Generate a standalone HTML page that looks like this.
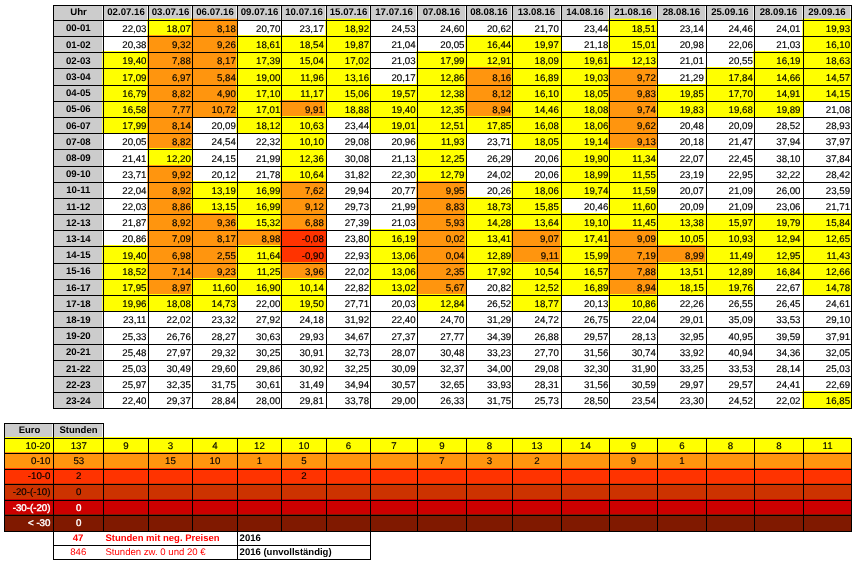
<!DOCTYPE html>
<html lang="de"><head><meta charset="utf-8"><title>Stundenpreise 2016</title>
<style>
html,body{margin:0;padding:0;background:#fff;}
body{width:857px;height:564px;overflow:hidden;}
svg{display:block;font-family:"Liberation Sans",Arial,sans-serif;font-size:9.7px;color:#000;}
text{fill:currentColor;}
.g rect{fill:#000000;shape-rendering:crispEdges;}
text{text-anchor:middle;text-rendering:geometricPrecision;stroke:currentColor;stroke-width:0.15px;}
text.e{text-anchor:end;}
text.s{text-anchor:start;}
text.b{font-weight:bold;font-size:9.65px;stroke:none;}
text.m{font-size:9.53px;}
text.t{font-size:9.6px;stroke:none;}
text.w{stroke-width:0.4px;}
</style></head><body>
<svg width="857" height="564" viewBox="0 0 857 564">
<g>
<rect x="54" y="6" width="48.3" height="14" fill="#cccccc"/>
<rect x="104" y="6" width="43.3" height="14" fill="#cccccc"/>
<rect x="149" y="6" width="42.3" height="14" fill="#cccccc"/>
<rect x="193" y="6" width="43.3" height="14" fill="#cccccc"/>
<rect x="238" y="6" width="42.3" height="14" fill="#cccccc"/>
<rect x="282" y="6" width="43.3" height="14" fill="#cccccc"/>
<rect x="327" y="6" width="42.3" height="14" fill="#cccccc"/>
<rect x="371" y="6" width="45.3" height="14" fill="#cccccc"/>
<rect x="418" y="6" width="47.3" height="14" fill="#cccccc"/>
<rect x="467" y="6" width="44.3" height="14" fill="#cccccc"/>
<rect x="513" y="6" width="47.3" height="14" fill="#cccccc"/>
<rect x="562" y="6" width="46.3" height="14" fill="#cccccc"/>
<rect x="610" y="6" width="46.3" height="14" fill="#cccccc"/>
<rect x="658" y="6" width="47.3" height="14" fill="#cccccc"/>
<rect x="707" y="6" width="46.3" height="14" fill="#cccccc"/>
<rect x="755" y="6" width="47.3" height="14" fill="#cccccc"/>
<rect x="804" y="6" width="46.3" height="14" fill="#cccccc"/>
<rect x="54" y="21" width="48.3" height="15" fill="#cccccc"/>
<rect x="147.3" y="18.7" width="44.7" height="17.3" fill="#ffff00"/>
<rect x="191.3" y="18.7" width="45.7" height="17.3" fill="#ff950e"/>
<rect x="325.3" y="18.7" width="44.7" height="17.3" fill="#ffff00"/>
<rect x="608.3" y="18.7" width="48.7" height="17.3" fill="#ffff00"/>
<rect x="802.3" y="18.7" width="48.7" height="17.3" fill="#ffff00"/>
<rect x="54" y="37" width="48.3" height="15" fill="#cccccc"/>
<rect x="147.3" y="35" width="44.7" height="17" fill="#ff950e"/>
<rect x="191.3" y="35" width="45.7" height="17" fill="#ff950e"/>
<rect x="236.3" y="35" width="44.7" height="17" fill="#ffff00"/>
<rect x="280.3" y="35" width="45.7" height="17" fill="#ffff00"/>
<rect x="325.3" y="35" width="44.7" height="17" fill="#ffff00"/>
<rect x="465.3" y="35" width="46.7" height="17" fill="#ffff00"/>
<rect x="511.3" y="35" width="49.7" height="17" fill="#ffff00"/>
<rect x="608.3" y="35" width="48.7" height="17" fill="#ffff00"/>
<rect x="802.3" y="35" width="48.7" height="17" fill="#ffff00"/>
<rect x="54" y="53" width="48.3" height="15" fill="#cccccc"/>
<rect x="102.3" y="51" width="45.7" height="17" fill="#ffff00"/>
<rect x="147.3" y="51" width="44.7" height="17" fill="#ff950e"/>
<rect x="191.3" y="51" width="45.7" height="17" fill="#ff950e"/>
<rect x="236.3" y="51" width="44.7" height="17" fill="#ffff00"/>
<rect x="280.3" y="51" width="45.7" height="17" fill="#ffff00"/>
<rect x="325.3" y="51" width="44.7" height="17" fill="#ffff00"/>
<rect x="416.3" y="51" width="49.7" height="17" fill="#ffff00"/>
<rect x="465.3" y="51" width="46.7" height="17" fill="#ffff00"/>
<rect x="511.3" y="51" width="49.7" height="17" fill="#ffff00"/>
<rect x="560.3" y="51" width="48.7" height="17" fill="#ffff00"/>
<rect x="608.3" y="51" width="48.7" height="17" fill="#ffff00"/>
<rect x="753.3" y="51" width="49.7" height="17" fill="#ffff00"/>
<rect x="802.3" y="51" width="48.7" height="17" fill="#ffff00"/>
<rect x="54" y="69" width="48.3" height="16" fill="#cccccc"/>
<rect x="102.3" y="67" width="45.7" height="18" fill="#ffff00"/>
<rect x="147.3" y="67" width="44.7" height="18" fill="#ff950e"/>
<rect x="191.3" y="67" width="45.7" height="18" fill="#ff950e"/>
<rect x="236.3" y="67" width="44.7" height="18" fill="#ffff00"/>
<rect x="280.3" y="67" width="45.7" height="18" fill="#ffff00"/>
<rect x="325.3" y="67" width="44.7" height="18" fill="#ffff00"/>
<rect x="416.3" y="67" width="49.7" height="18" fill="#ffff00"/>
<rect x="465.3" y="67" width="46.7" height="18" fill="#ff950e"/>
<rect x="511.3" y="67" width="49.7" height="18" fill="#ffff00"/>
<rect x="560.3" y="67" width="48.7" height="18" fill="#ffff00"/>
<rect x="608.3" y="67" width="48.7" height="18" fill="#ff950e"/>
<rect x="705.3" y="67" width="48.7" height="18" fill="#ffff00"/>
<rect x="753.3" y="67" width="49.7" height="18" fill="#ffff00"/>
<rect x="802.3" y="67" width="48.7" height="18" fill="#ffff00"/>
<rect x="54" y="86" width="48.3" height="15" fill="#cccccc"/>
<rect x="102.3" y="84" width="45.7" height="17" fill="#ffff00"/>
<rect x="147.3" y="84" width="44.7" height="17" fill="#ff950e"/>
<rect x="191.3" y="84" width="45.7" height="17" fill="#ff950e"/>
<rect x="236.3" y="84" width="44.7" height="17" fill="#ffff00"/>
<rect x="280.3" y="84" width="45.7" height="17" fill="#ffff00"/>
<rect x="325.3" y="84" width="44.7" height="17" fill="#ffff00"/>
<rect x="369.3" y="84" width="47.7" height="17" fill="#ffff00"/>
<rect x="416.3" y="84" width="49.7" height="17" fill="#ffff00"/>
<rect x="465.3" y="84" width="46.7" height="17" fill="#ff950e"/>
<rect x="511.3" y="84" width="49.7" height="17" fill="#ffff00"/>
<rect x="560.3" y="84" width="48.7" height="17" fill="#ffff00"/>
<rect x="608.3" y="84" width="48.7" height="17" fill="#ff950e"/>
<rect x="656.3" y="84" width="49.7" height="17" fill="#ffff00"/>
<rect x="705.3" y="84" width="48.7" height="17" fill="#ffff00"/>
<rect x="753.3" y="84" width="49.7" height="17" fill="#ffff00"/>
<rect x="802.3" y="84" width="48.7" height="17" fill="#ffff00"/>
<rect x="54" y="102" width="48.3" height="15" fill="#cccccc"/>
<rect x="102.3" y="100" width="45.7" height="17" fill="#ffff00"/>
<rect x="147.3" y="100" width="44.7" height="17" fill="#ff950e"/>
<rect x="191.3" y="100" width="45.7" height="17" fill="#ff950e"/>
<rect x="236.3" y="100" width="44.7" height="17" fill="#ffff00"/>
<rect x="280.3" y="100" width="45.7" height="17" fill="#ff950e"/>
<rect x="325.3" y="100" width="44.7" height="17" fill="#ffff00"/>
<rect x="369.3" y="100" width="47.7" height="17" fill="#ffff00"/>
<rect x="416.3" y="100" width="49.7" height="17" fill="#ffff00"/>
<rect x="465.3" y="100" width="46.7" height="17" fill="#ff950e"/>
<rect x="511.3" y="100" width="49.7" height="17" fill="#ffff00"/>
<rect x="560.3" y="100" width="48.7" height="17" fill="#ffff00"/>
<rect x="608.3" y="100" width="48.7" height="17" fill="#ff950e"/>
<rect x="656.3" y="100" width="49.7" height="17" fill="#ffff00"/>
<rect x="705.3" y="100" width="48.7" height="17" fill="#ffff00"/>
<rect x="753.3" y="100" width="49.7" height="17" fill="#ffff00"/>
<rect x="54" y="118" width="48.3" height="15" fill="#cccccc"/>
<rect x="102.3" y="116" width="45.7" height="17" fill="#ffff00"/>
<rect x="147.3" y="116" width="44.7" height="17" fill="#ff950e"/>
<rect x="236.3" y="116" width="44.7" height="17" fill="#ffff00"/>
<rect x="280.3" y="116" width="45.7" height="17" fill="#ffff00"/>
<rect x="369.3" y="116" width="47.7" height="17" fill="#ffff00"/>
<rect x="416.3" y="116" width="49.7" height="17" fill="#ffff00"/>
<rect x="465.3" y="116" width="46.7" height="17" fill="#ffff00"/>
<rect x="511.3" y="116" width="49.7" height="17" fill="#ffff00"/>
<rect x="560.3" y="116" width="48.7" height="17" fill="#ffff00"/>
<rect x="608.3" y="116" width="48.7" height="17" fill="#ff950e"/>
<rect x="54" y="134" width="48.3" height="15" fill="#cccccc"/>
<rect x="147.3" y="132" width="44.7" height="17" fill="#ff950e"/>
<rect x="280.3" y="132" width="45.7" height="17" fill="#ffff00"/>
<rect x="416.3" y="132" width="49.7" height="17" fill="#ffff00"/>
<rect x="511.3" y="132" width="49.7" height="17" fill="#ffff00"/>
<rect x="560.3" y="132" width="48.7" height="17" fill="#ffff00"/>
<rect x="608.3" y="132" width="48.7" height="17" fill="#ff950e"/>
<rect x="54" y="150" width="48.3" height="16" fill="#cccccc"/>
<rect x="147.3" y="148" width="44.7" height="18" fill="#ffff00"/>
<rect x="280.3" y="148" width="45.7" height="18" fill="#ffff00"/>
<rect x="416.3" y="148" width="49.7" height="18" fill="#ffff00"/>
<rect x="560.3" y="148" width="48.7" height="18" fill="#ffff00"/>
<rect x="608.3" y="148" width="48.7" height="18" fill="#ffff00"/>
<rect x="54" y="167" width="48.3" height="15" fill="#cccccc"/>
<rect x="147.3" y="165" width="44.7" height="17" fill="#ff950e"/>
<rect x="280.3" y="165" width="45.7" height="17" fill="#ffff00"/>
<rect x="416.3" y="165" width="49.7" height="17" fill="#ffff00"/>
<rect x="560.3" y="165" width="48.7" height="17" fill="#ffff00"/>
<rect x="608.3" y="165" width="48.7" height="17" fill="#ffff00"/>
<rect x="54" y="183" width="48.3" height="15" fill="#cccccc"/>
<rect x="147.3" y="181" width="44.7" height="17" fill="#ff950e"/>
<rect x="191.3" y="181" width="45.7" height="17" fill="#ffff00"/>
<rect x="236.3" y="181" width="44.7" height="17" fill="#ffff00"/>
<rect x="280.3" y="181" width="45.7" height="17" fill="#ff950e"/>
<rect x="416.3" y="181" width="49.7" height="17" fill="#ff950e"/>
<rect x="511.3" y="181" width="49.7" height="17" fill="#ffff00"/>
<rect x="560.3" y="181" width="48.7" height="17" fill="#ffff00"/>
<rect x="608.3" y="181" width="48.7" height="17" fill="#ffff00"/>
<rect x="54" y="199" width="48.3" height="15" fill="#cccccc"/>
<rect x="147.3" y="197" width="44.7" height="17" fill="#ff950e"/>
<rect x="191.3" y="197" width="45.7" height="17" fill="#ffff00"/>
<rect x="236.3" y="197" width="44.7" height="17" fill="#ffff00"/>
<rect x="280.3" y="197" width="45.7" height="17" fill="#ff950e"/>
<rect x="416.3" y="197" width="49.7" height="17" fill="#ff950e"/>
<rect x="465.3" y="197" width="46.7" height="17" fill="#ffff00"/>
<rect x="511.3" y="197" width="49.7" height="17" fill="#ffff00"/>
<rect x="608.3" y="197" width="48.7" height="17" fill="#ffff00"/>
<rect x="54" y="215" width="48.3" height="15" fill="#cccccc"/>
<rect x="147.3" y="213" width="44.7" height="17" fill="#ff950e"/>
<rect x="191.3" y="213" width="45.7" height="17" fill="#ff950e"/>
<rect x="236.3" y="213" width="44.7" height="17" fill="#ffff00"/>
<rect x="280.3" y="213" width="45.7" height="17" fill="#ff950e"/>
<rect x="416.3" y="213" width="49.7" height="17" fill="#ff950e"/>
<rect x="465.3" y="213" width="46.7" height="17" fill="#ffff00"/>
<rect x="511.3" y="213" width="49.7" height="17" fill="#ffff00"/>
<rect x="560.3" y="213" width="48.7" height="17" fill="#ffff00"/>
<rect x="608.3" y="213" width="48.7" height="17" fill="#ffff00"/>
<rect x="656.3" y="213" width="49.7" height="17" fill="#ffff00"/>
<rect x="705.3" y="213" width="48.7" height="17" fill="#ffff00"/>
<rect x="753.3" y="213" width="49.7" height="17" fill="#ffff00"/>
<rect x="802.3" y="213" width="48.7" height="17" fill="#ffff00"/>
<rect x="54" y="231" width="48.3" height="15" fill="#cccccc"/>
<rect x="147.3" y="229" width="44.7" height="17" fill="#ff950e"/>
<rect x="191.3" y="229" width="45.7" height="17" fill="#ff950e"/>
<rect x="236.3" y="229" width="44.7" height="17" fill="#ff950e"/>
<rect x="280.3" y="229" width="45.7" height="17" fill="#ff3300"/>
<rect x="369.3" y="229" width="47.7" height="17" fill="#ffff00"/>
<rect x="416.3" y="229" width="49.7" height="17" fill="#ff950e"/>
<rect x="465.3" y="229" width="46.7" height="17" fill="#ffff00"/>
<rect x="511.3" y="229" width="49.7" height="17" fill="#ff950e"/>
<rect x="560.3" y="229" width="48.7" height="17" fill="#ffff00"/>
<rect x="608.3" y="229" width="48.7" height="17" fill="#ff950e"/>
<rect x="656.3" y="229" width="49.7" height="17" fill="#ffff00"/>
<rect x="705.3" y="229" width="48.7" height="17" fill="#ffff00"/>
<rect x="753.3" y="229" width="49.7" height="17" fill="#ffff00"/>
<rect x="802.3" y="229" width="48.7" height="17" fill="#ffff00"/>
<rect x="54" y="247" width="48.3" height="16" fill="#cccccc"/>
<rect x="102.3" y="245" width="45.7" height="18" fill="#ffff00"/>
<rect x="147.3" y="245" width="44.7" height="18" fill="#ff950e"/>
<rect x="191.3" y="245" width="45.7" height="18" fill="#ff950e"/>
<rect x="236.3" y="245" width="44.7" height="18" fill="#ffff00"/>
<rect x="280.3" y="245" width="45.7" height="18" fill="#ff3300"/>
<rect x="369.3" y="245" width="47.7" height="18" fill="#ffff00"/>
<rect x="416.3" y="245" width="49.7" height="18" fill="#ff950e"/>
<rect x="465.3" y="245" width="46.7" height="18" fill="#ffff00"/>
<rect x="511.3" y="245" width="49.7" height="18" fill="#ff950e"/>
<rect x="560.3" y="245" width="48.7" height="18" fill="#ffff00"/>
<rect x="608.3" y="245" width="48.7" height="18" fill="#ff950e"/>
<rect x="656.3" y="245" width="49.7" height="18" fill="#ff950e"/>
<rect x="705.3" y="245" width="48.7" height="18" fill="#ffff00"/>
<rect x="753.3" y="245" width="49.7" height="18" fill="#ffff00"/>
<rect x="802.3" y="245" width="48.7" height="18" fill="#ffff00"/>
<rect x="54" y="264" width="48.3" height="15" fill="#cccccc"/>
<rect x="102.3" y="262" width="45.7" height="17" fill="#ffff00"/>
<rect x="147.3" y="262" width="44.7" height="17" fill="#ff950e"/>
<rect x="191.3" y="262" width="45.7" height="17" fill="#ff950e"/>
<rect x="236.3" y="262" width="44.7" height="17" fill="#ffff00"/>
<rect x="280.3" y="262" width="45.7" height="17" fill="#ff950e"/>
<rect x="369.3" y="262" width="47.7" height="17" fill="#ffff00"/>
<rect x="416.3" y="262" width="49.7" height="17" fill="#ff950e"/>
<rect x="465.3" y="262" width="46.7" height="17" fill="#ffff00"/>
<rect x="511.3" y="262" width="49.7" height="17" fill="#ffff00"/>
<rect x="560.3" y="262" width="48.7" height="17" fill="#ffff00"/>
<rect x="608.3" y="262" width="48.7" height="17" fill="#ff950e"/>
<rect x="656.3" y="262" width="49.7" height="17" fill="#ffff00"/>
<rect x="705.3" y="262" width="48.7" height="17" fill="#ffff00"/>
<rect x="753.3" y="262" width="49.7" height="17" fill="#ffff00"/>
<rect x="802.3" y="262" width="48.7" height="17" fill="#ffff00"/>
<rect x="54" y="280" width="48.3" height="15" fill="#cccccc"/>
<rect x="102.3" y="278" width="45.7" height="17" fill="#ffff00"/>
<rect x="147.3" y="278" width="44.7" height="17" fill="#ff950e"/>
<rect x="191.3" y="278" width="45.7" height="17" fill="#ffff00"/>
<rect x="236.3" y="278" width="44.7" height="17" fill="#ffff00"/>
<rect x="280.3" y="278" width="45.7" height="17" fill="#ffff00"/>
<rect x="369.3" y="278" width="47.7" height="17" fill="#ffff00"/>
<rect x="416.3" y="278" width="49.7" height="17" fill="#ff950e"/>
<rect x="511.3" y="278" width="49.7" height="17" fill="#ffff00"/>
<rect x="560.3" y="278" width="48.7" height="17" fill="#ffff00"/>
<rect x="608.3" y="278" width="48.7" height="17" fill="#ff950e"/>
<rect x="656.3" y="278" width="49.7" height="17" fill="#ffff00"/>
<rect x="705.3" y="278" width="48.7" height="17" fill="#ffff00"/>
<rect x="802.3" y="278" width="48.7" height="17" fill="#ffff00"/>
<rect x="54" y="296" width="48.3" height="15" fill="#cccccc"/>
<rect x="102.3" y="294" width="45.7" height="17" fill="#ffff00"/>
<rect x="147.3" y="294" width="44.7" height="17" fill="#ffff00"/>
<rect x="191.3" y="294" width="45.7" height="17" fill="#ffff00"/>
<rect x="280.3" y="294" width="45.7" height="17" fill="#ffff00"/>
<rect x="416.3" y="294" width="49.7" height="17" fill="#ffff00"/>
<rect x="511.3" y="294" width="49.7" height="17" fill="#ffff00"/>
<rect x="608.3" y="294" width="48.7" height="17" fill="#ffff00"/>
<rect x="54" y="312" width="48.3" height="15" fill="#cccccc"/>
<rect x="54" y="328" width="48.3" height="16" fill="#cccccc"/>
<rect x="54" y="345" width="48.3" height="15" fill="#cccccc"/>
<rect x="54" y="361" width="48.3" height="15" fill="#cccccc"/>
<rect x="54" y="377" width="48.3" height="15" fill="#cccccc"/>
<rect x="54" y="393" width="48.3" height="15" fill="#cccccc"/>
<rect x="802.3" y="391" width="48.7" height="17" fill="#ffff00"/>
<rect x="5" y="424" width="47.3" height="14" fill="#cccccc"/>
<rect x="54" y="424" width="48.3" height="14" fill="#cccccc"/>
<rect x="4" y="437" width="847" height="16" fill="#ffff00"/>
<rect x="4" y="452" width="847" height="17" fill="#ff950e"/>
<rect x="4" y="468" width="847" height="16" fill="#ff3300"/>
<rect x="4" y="483" width="847" height="17" fill="#cc3300"/>
<rect x="4" y="499" width="847" height="16" fill="#cc0000"/>
<rect x="4" y="514" width="847" height="17" fill="#801900"/>
</g>
<g class="g">
<rect x="53" y="5" width="799" height="1"/>
<rect x="53" y="20" width="799" height="1"/>
<rect x="53" y="36" width="799" height="1"/>
<rect x="53" y="52" width="799" height="1"/>
<rect x="53" y="68" width="799" height="1"/>
<rect x="53" y="85" width="799" height="1"/>
<rect x="53" y="101" width="799" height="1"/>
<rect x="53" y="117" width="799" height="1"/>
<rect x="53" y="133" width="799" height="1"/>
<rect x="53" y="149" width="799" height="1"/>
<rect x="53" y="166" width="799" height="1"/>
<rect x="53" y="182" width="799" height="1"/>
<rect x="53" y="198" width="799" height="1"/>
<rect x="53" y="214" width="799" height="1"/>
<rect x="53" y="230" width="799" height="1"/>
<rect x="53" y="246" width="799" height="1"/>
<rect x="53" y="263" width="799" height="1"/>
<rect x="53" y="279" width="799" height="1"/>
<rect x="53" y="295" width="799" height="1"/>
<rect x="53" y="311" width="799" height="1"/>
<rect x="53" y="327" width="799" height="1"/>
<rect x="53" y="344" width="799" height="1"/>
<rect x="53" y="360" width="799" height="1"/>
<rect x="53" y="376" width="799" height="1"/>
<rect x="53" y="392" width="799" height="1"/>
<rect x="53" y="408" width="799" height="1"/>
<rect x="53" y="5" width="1" height="404"/>
<rect x="103" y="5" width="1" height="404"/>
<rect x="148" y="5" width="1" height="404"/>
<rect x="192" y="5" width="1" height="404"/>
<rect x="237" y="5" width="1" height="404"/>
<rect x="281" y="5" width="1" height="404"/>
<rect x="326" y="5" width="1" height="404"/>
<rect x="370" y="5" width="1" height="404"/>
<rect x="417" y="5" width="1" height="404"/>
<rect x="466" y="5" width="1" height="404"/>
<rect x="512" y="5" width="1" height="404"/>
<rect x="561" y="5" width="1" height="404"/>
<rect x="609" y="5" width="1" height="404"/>
<rect x="657" y="5" width="1" height="404"/>
<rect x="706" y="5" width="1" height="404"/>
<rect x="754" y="5" width="1" height="404"/>
<rect x="803" y="5" width="1" height="404"/>
<rect x="851" y="5" width="1" height="404"/>
<rect x="4" y="423" width="100" height="1"/>
<rect x="4" y="438" width="848" height="1"/>
<rect x="4" y="453" width="848" height="1"/>
<rect x="4" y="469" width="848" height="1"/>
<rect x="4" y="484" width="848" height="1"/>
<rect x="4" y="500" width="848" height="1"/>
<rect x="4" y="515" width="848" height="1"/>
<rect x="4" y="531" width="848" height="1"/>
<rect x="4" y="423" width="1" height="109"/>
<rect x="53" y="423" width="1" height="109"/>
<rect x="103" y="423" width="1" height="109"/>
<rect x="148" y="438" width="1" height="94"/>
<rect x="192" y="438" width="1" height="94"/>
<rect x="237" y="438" width="1" height="94"/>
<rect x="281" y="438" width="1" height="94"/>
<rect x="326" y="438" width="1" height="94"/>
<rect x="370" y="438" width="1" height="94"/>
<rect x="417" y="438" width="1" height="94"/>
<rect x="466" y="438" width="1" height="94"/>
<rect x="512" y="438" width="1" height="94"/>
<rect x="561" y="438" width="1" height="94"/>
<rect x="609" y="438" width="1" height="94"/>
<rect x="657" y="438" width="1" height="94"/>
<rect x="706" y="438" width="1" height="94"/>
<rect x="754" y="438" width="1" height="94"/>
<rect x="803" y="438" width="1" height="94"/>
<rect x="851" y="438" width="1" height="94"/>
<rect x="53" y="545" width="318" height="1"/>
<rect x="53" y="559" width="318" height="1"/>
<rect x="53" y="531" width="1" height="29"/>
<rect x="237" y="531" width="1" height="29"/>
<rect x="370" y="531" width="1" height="29"/>
</g>
<g>
<text x="78.5" y="15" class="b">Uhr</text>
<text x="126" y="15" class="b">02.07.16</text>
<text x="170.5" y="15" class="b">03.07.16</text>
<text x="215" y="15" class="b">06.07.16</text>
<text x="259.5" y="15" class="b">09.07.16</text>
<text x="304" y="15" class="b">10.07.16</text>
<text x="348.5" y="15" class="b">15.07.16</text>
<text x="394" y="15" class="b">17.07.16</text>
<text x="441.4" y="15" class="b">07.08.16</text>
<text x="488.9" y="15" class="b">08.08.16</text>
<text x="536.4" y="15" class="b">13.08.16</text>
<text x="584.9" y="15" class="b">14.08.16</text>
<text x="632.9" y="15" class="b">21.08.16</text>
<text x="681.4" y="15" class="b">28.08.16</text>
<text x="729.9" y="15" class="b">25.09.16</text>
<text x="778.4" y="15" class="b">28.09.16</text>
<text x="826.9" y="15" class="b">29.09.16</text>
<text x="78.3" y="31" class="b">00-01</text>
<text x="146.5" y="32" class="e">22,03</text>
<text x="190.8" y="32" class="e">18,07</text>
<text x="235.8" y="32" class="e">8,18</text>
<text x="280.3" y="32" class="e">20,70</text>
<text x="323.8" y="32" class="e">23,17</text>
<text x="369.1" y="32" class="e">18,92</text>
<text x="415.65" y="32" class="e">24,53</text>
<text x="464.5" y="32" class="e">24,60</text>
<text x="511.2" y="32" class="e">20,62</text>
<text x="558.8" y="32" class="e">21,70</text>
<text x="608.3" y="32" class="e">23,44</text>
<text x="655.9" y="32" class="e">18,51</text>
<text x="703.9" y="32" class="e">23,14</text>
<text x="752.85" y="32" class="e">24,46</text>
<text x="800.5" y="32" class="e">24,01</text>
<text x="850.1" y="32" class="e">19,93</text>
<text x="78.3" y="48" class="b">01-02</text>
<text x="146.5" y="48" class="e">20,38</text>
<text x="190.8" y="48" class="e">9,32</text>
<text x="235.8" y="48" class="e">9,26</text>
<text x="280.3" y="48" class="e">18,61</text>
<text x="323.8" y="48" class="e">18,54</text>
<text x="369.1" y="48" class="e">19,87</text>
<text x="415.65" y="48" class="e">21,04</text>
<text x="464.5" y="48" class="e">20,05</text>
<text x="511.2" y="48" class="e">16,44</text>
<text x="558.8" y="48" class="e">19,97</text>
<text x="608.3" y="48" class="e">21,18</text>
<text x="655.9" y="48" class="e">15,01</text>
<text x="703.9" y="48" class="e">20,98</text>
<text x="752.85" y="48" class="e">22,06</text>
<text x="800.5" y="48" class="e">21,03</text>
<text x="850.1" y="48" class="e">16,10</text>
<text x="78.3" y="64" class="b">02-03</text>
<text x="146.5" y="64" class="e">19,40</text>
<text x="190.8" y="64" class="e">7,88</text>
<text x="235.8" y="64" class="e">8,17</text>
<text x="280.3" y="64" class="e">17,39</text>
<text x="323.8" y="64" class="e">15,04</text>
<text x="369.1" y="64" class="e">17,02</text>
<text x="415.65" y="64" class="e">21,03</text>
<text x="464.5" y="64" class="e">17,99</text>
<text x="511.2" y="64" class="e">12,91</text>
<text x="558.8" y="64" class="e">18,09</text>
<text x="608.3" y="64" class="e">19,61</text>
<text x="655.9" y="64" class="e">12,13</text>
<text x="703.9" y="64" class="e">21,01</text>
<text x="752.85" y="64" class="e">20,55</text>
<text x="800.5" y="64" class="e">16,19</text>
<text x="850.1" y="64" class="e">18,63</text>
<text x="78.3" y="80" class="b">03-04</text>
<text x="146.5" y="81" class="e">17,09</text>
<text x="190.8" y="81" class="e">6,97</text>
<text x="235.8" y="81" class="e">5,84</text>
<text x="280.3" y="81" class="e">19,00</text>
<text x="323.8" y="81" class="e">11,96</text>
<text x="369.1" y="81" class="e">13,16</text>
<text x="415.65" y="81" class="e">20,17</text>
<text x="464.5" y="81" class="e">12,86</text>
<text x="511.2" y="81" class="e">8,16</text>
<text x="558.8" y="81" class="e">16,89</text>
<text x="608.3" y="81" class="e">19,03</text>
<text x="655.9" y="81" class="e">9,72</text>
<text x="703.9" y="81" class="e">21,29</text>
<text x="752.85" y="81" class="e">17,84</text>
<text x="800.5" y="81" class="e">14,66</text>
<text x="850.1" y="81" class="e">14,57</text>
<text x="78.3" y="96" class="b">04-05</text>
<text x="146.5" y="97" class="e">16,79</text>
<text x="190.8" y="97" class="e">8,82</text>
<text x="235.8" y="97" class="e">4,90</text>
<text x="280.3" y="97" class="e">17,10</text>
<text x="323.8" y="97" class="e">11,17</text>
<text x="369.1" y="97" class="e">15,06</text>
<text x="415.65" y="97" class="e">19,57</text>
<text x="464.5" y="97" class="e">12,38</text>
<text x="511.2" y="97" class="e">8,12</text>
<text x="558.8" y="97" class="e">16,10</text>
<text x="608.3" y="97" class="e">18,05</text>
<text x="655.9" y="97" class="e">9,83</text>
<text x="703.9" y="97" class="e">19,85</text>
<text x="752.85" y="97" class="e">17,70</text>
<text x="800.5" y="97" class="e">14,91</text>
<text x="850.1" y="97" class="e">14,15</text>
<text x="78.3" y="112" class="b">05-06</text>
<text x="146.5" y="113" class="e">16,58</text>
<text x="190.8" y="113" class="e">7,77</text>
<text x="235.8" y="113" class="e">10,72</text>
<text x="280.3" y="113" class="e">17,01</text>
<text x="323.8" y="113" class="e">9,91</text>
<text x="369.1" y="113" class="e">18,88</text>
<text x="415.65" y="113" class="e">19,40</text>
<text x="464.5" y="113" class="e">12,35</text>
<text x="511.2" y="113" class="e">8,94</text>
<text x="558.8" y="113" class="e">14,46</text>
<text x="608.3" y="113" class="e">18,08</text>
<text x="655.9" y="113" class="e">9,74</text>
<text x="703.9" y="113" class="e">19,83</text>
<text x="752.85" y="113" class="e">19,68</text>
<text x="800.5" y="113" class="e">19,89</text>
<text x="850.1" y="113" class="e">21,08</text>
<text x="78.3" y="129" class="b">06-07</text>
<text x="146.5" y="129" class="e">17,99</text>
<text x="190.8" y="129" class="e">8,14</text>
<text x="235.8" y="129" class="e">20,09</text>
<text x="280.3" y="129" class="e">18,12</text>
<text x="323.8" y="129" class="e">10,63</text>
<text x="369.1" y="129" class="e">23,44</text>
<text x="415.65" y="129" class="e">19,01</text>
<text x="464.5" y="129" class="e">12,51</text>
<text x="511.2" y="129" class="e">17,85</text>
<text x="558.8" y="129" class="e">16,08</text>
<text x="608.3" y="129" class="e">18,06</text>
<text x="655.9" y="129" class="e">9,62</text>
<text x="703.9" y="129" class="e">20,48</text>
<text x="752.85" y="129" class="e">20,09</text>
<text x="800.5" y="129" class="e">28,52</text>
<text x="850.1" y="129" class="e">28,93</text>
<text x="78.3" y="145" class="b">07-08</text>
<text x="146.5" y="145" class="e">20,05</text>
<text x="190.8" y="145" class="e">8,82</text>
<text x="235.8" y="145" class="e">24,54</text>
<text x="280.3" y="145" class="e">22,32</text>
<text x="323.8" y="145" class="e">10,10</text>
<text x="369.1" y="145" class="e">29,08</text>
<text x="415.65" y="145" class="e">20,96</text>
<text x="464.5" y="145" class="e">11,93</text>
<text x="511.2" y="145" class="e">23,71</text>
<text x="558.8" y="145" class="e">18,05</text>
<text x="608.3" y="145" class="e">19,14</text>
<text x="655.9" y="145" class="e">9,13</text>
<text x="703.9" y="145" class="e">20,18</text>
<text x="752.85" y="145" class="e">21,47</text>
<text x="800.5" y="145" class="e">37,94</text>
<text x="850.1" y="145" class="e">37,97</text>
<text x="78.3" y="161" class="b">08-09</text>
<text x="146.5" y="162" class="e">21,41</text>
<text x="190.8" y="162" class="e">12,20</text>
<text x="235.8" y="162" class="e">24,15</text>
<text x="280.3" y="162" class="e">21,99</text>
<text x="323.8" y="162" class="e">12,36</text>
<text x="369.1" y="162" class="e">30,08</text>
<text x="415.65" y="162" class="e">21,13</text>
<text x="464.5" y="162" class="e">12,25</text>
<text x="511.2" y="162" class="e">26,29</text>
<text x="558.8" y="162" class="e">20,06</text>
<text x="608.3" y="162" class="e">19,90</text>
<text x="655.9" y="162" class="e">11,34</text>
<text x="703.9" y="162" class="e">22,07</text>
<text x="752.85" y="162" class="e">22,45</text>
<text x="800.5" y="162" class="e">38,10</text>
<text x="850.1" y="162" class="e">37,84</text>
<text x="78.3" y="177" class="b">09-10</text>
<text x="146.5" y="178" class="e">23,71</text>
<text x="190.8" y="178" class="e">9,92</text>
<text x="235.8" y="178" class="e">20,12</text>
<text x="280.3" y="178" class="e">21,78</text>
<text x="323.8" y="178" class="e">10,64</text>
<text x="369.1" y="178" class="e">31,82</text>
<text x="415.65" y="178" class="e">22,30</text>
<text x="464.5" y="178" class="e">12,79</text>
<text x="511.2" y="178" class="e">24,02</text>
<text x="558.8" y="178" class="e">20,06</text>
<text x="608.3" y="178" class="e">18,99</text>
<text x="655.9" y="178" class="e">11,55</text>
<text x="703.9" y="178" class="e">23,19</text>
<text x="752.85" y="178" class="e">22,95</text>
<text x="800.5" y="178" class="e">32,22</text>
<text x="850.1" y="178" class="e">28,42</text>
<text x="78.3" y="193" class="b">10-11</text>
<text x="146.5" y="194" class="e">22,04</text>
<text x="190.8" y="194" class="e">8,92</text>
<text x="235.8" y="194" class="e">13,19</text>
<text x="280.3" y="194" class="e">16,99</text>
<text x="323.8" y="194" class="e">7,62</text>
<text x="369.1" y="194" class="e">29,94</text>
<text x="415.65" y="194" class="e">20,77</text>
<text x="464.5" y="194" class="e">9,95</text>
<text x="511.2" y="194" class="e">20,26</text>
<text x="558.8" y="194" class="e">18,06</text>
<text x="608.3" y="194" class="e">19,74</text>
<text x="655.9" y="194" class="e">11,59</text>
<text x="703.9" y="194" class="e">20,07</text>
<text x="752.85" y="194" class="e">21,09</text>
<text x="800.5" y="194" class="e">26,00</text>
<text x="850.1" y="194" class="e">23,59</text>
<text x="78.3" y="210" class="b">11-12</text>
<text x="146.5" y="210" class="e">22,03</text>
<text x="190.8" y="210" class="e">8,86</text>
<text x="235.8" y="210" class="e">13,15</text>
<text x="280.3" y="210" class="e">16,99</text>
<text x="323.8" y="210" class="e">9,12</text>
<text x="369.1" y="210" class="e">29,73</text>
<text x="415.65" y="210" class="e">21,99</text>
<text x="464.5" y="210" class="e">8,83</text>
<text x="511.2" y="210" class="e">18,73</text>
<text x="558.8" y="210" class="e">15,85</text>
<text x="608.3" y="210" class="e">20,46</text>
<text x="655.9" y="210" class="e">11,60</text>
<text x="703.9" y="210" class="e">20,09</text>
<text x="752.85" y="210" class="e">21,09</text>
<text x="800.5" y="210" class="e">23,06</text>
<text x="850.1" y="210" class="e">21,71</text>
<text x="78.3" y="226" class="b">12-13</text>
<text x="146.5" y="226" class="e">21,87</text>
<text x="190.8" y="226" class="e">8,92</text>
<text x="235.8" y="226" class="e">9,36</text>
<text x="280.3" y="226" class="e">15,32</text>
<text x="323.8" y="226" class="e">6,88</text>
<text x="369.1" y="226" class="e">27,39</text>
<text x="415.65" y="226" class="e">21,03</text>
<text x="464.5" y="226" class="e">5,93</text>
<text x="511.2" y="226" class="e">14,28</text>
<text x="558.8" y="226" class="e">13,64</text>
<text x="608.3" y="226" class="e">19,10</text>
<text x="655.9" y="226" class="e">11,45</text>
<text x="703.9" y="226" class="e">13,38</text>
<text x="752.85" y="226" class="e">15,97</text>
<text x="800.5" y="226" class="e">19,79</text>
<text x="850.1" y="226" class="e">15,84</text>
<text x="78.3" y="242" class="b">13-14</text>
<text x="146.5" y="242" class="e">20,86</text>
<text x="190.8" y="242" class="e">7,09</text>
<text x="235.8" y="242" class="e">8,17</text>
<text x="280.3" y="242" class="e">8,98</text>
<text x="323.8" y="242" class="e">-0,08</text>
<text x="369.1" y="242" class="e">23,80</text>
<text x="415.65" y="242" class="e">16,19</text>
<text x="464.5" y="242" class="e">0,02</text>
<text x="511.2" y="242" class="e">13,41</text>
<text x="558.8" y="242" class="e">9,07</text>
<text x="608.3" y="242" class="e">17,41</text>
<text x="655.9" y="242" class="e">9,09</text>
<text x="703.9" y="242" class="e">10,05</text>
<text x="752.85" y="242" class="e">10,93</text>
<text x="800.5" y="242" class="e">12,94</text>
<text x="850.1" y="242" class="e">12,65</text>
<text x="78.3" y="258" class="b">14-15</text>
<text x="146.5" y="259" class="e">19,40</text>
<text x="190.8" y="259" class="e">6,98</text>
<text x="235.8" y="259" class="e">2,55</text>
<text x="280.3" y="259" class="e">11,64</text>
<text x="323.8" y="259" class="e">-0,90</text>
<text x="369.1" y="259" class="e">22,93</text>
<text x="415.65" y="259" class="e">13,06</text>
<text x="464.5" y="259" class="e">0,04</text>
<text x="511.2" y="259" class="e">12,89</text>
<text x="558.8" y="259" class="e">9,11</text>
<text x="608.3" y="259" class="e">15,99</text>
<text x="655.9" y="259" class="e">7,19</text>
<text x="703.9" y="259" class="e">8,99</text>
<text x="752.85" y="259" class="e">11,49</text>
<text x="800.5" y="259" class="e">12,95</text>
<text x="850.1" y="259" class="e">11,43</text>
<text x="78.3" y="274" class="b">15-16</text>
<text x="146.5" y="275" class="e">18,52</text>
<text x="190.8" y="275" class="e">7,14</text>
<text x="235.8" y="275" class="e">9,23</text>
<text x="280.3" y="275" class="e">11,25</text>
<text x="323.8" y="275" class="e">3,96</text>
<text x="369.1" y="275" class="e">22,02</text>
<text x="415.65" y="275" class="e">13,06</text>
<text x="464.5" y="275" class="e">2,35</text>
<text x="511.2" y="275" class="e">17,92</text>
<text x="558.8" y="275" class="e">10,54</text>
<text x="608.3" y="275" class="e">16,57</text>
<text x="655.9" y="275" class="e">7,88</text>
<text x="703.9" y="275" class="e">13,51</text>
<text x="752.85" y="275" class="e">12,89</text>
<text x="800.5" y="275" class="e">16,84</text>
<text x="850.1" y="275" class="e">12,66</text>
<text x="78.3" y="291" class="b">16-17</text>
<text x="146.5" y="291" class="e">17,95</text>
<text x="190.8" y="291" class="e">8,97</text>
<text x="235.8" y="291" class="e">11,60</text>
<text x="280.3" y="291" class="e">16,90</text>
<text x="323.8" y="291" class="e">10,14</text>
<text x="369.1" y="291" class="e">22,82</text>
<text x="415.65" y="291" class="e">13,02</text>
<text x="464.5" y="291" class="e">5,67</text>
<text x="511.2" y="291" class="e">20,82</text>
<text x="558.8" y="291" class="e">12,52</text>
<text x="608.3" y="291" class="e">16,89</text>
<text x="655.9" y="291" class="e">8,94</text>
<text x="703.9" y="291" class="e">18,15</text>
<text x="752.85" y="291" class="e">19,76</text>
<text x="800.5" y="291" class="e">22,67</text>
<text x="850.1" y="291" class="e">14,78</text>
<text x="78.3" y="307" class="b">17-18</text>
<text x="146.5" y="307" class="e">19,96</text>
<text x="190.8" y="307" class="e">18,08</text>
<text x="235.8" y="307" class="e">14,73</text>
<text x="280.3" y="307" class="e">22,00</text>
<text x="323.8" y="307" class="e">19,50</text>
<text x="369.1" y="307" class="e">27,71</text>
<text x="415.65" y="307" class="e">20,03</text>
<text x="464.5" y="307" class="e">12,84</text>
<text x="511.2" y="307" class="e">26,52</text>
<text x="558.8" y="307" class="e">18,77</text>
<text x="608.3" y="307" class="e">20,13</text>
<text x="655.9" y="307" class="e">10,86</text>
<text x="703.9" y="307" class="e">22,26</text>
<text x="752.85" y="307" class="e">26,55</text>
<text x="800.5" y="307" class="e">26,45</text>
<text x="850.1" y="307" class="e">24,61</text>
<text x="78.3" y="323" class="b">18-19</text>
<text x="146.5" y="323" class="e">23,11</text>
<text x="190.8" y="323" class="e">22,02</text>
<text x="235.8" y="323" class="e">23,32</text>
<text x="280.3" y="323" class="e">27,92</text>
<text x="323.8" y="323" class="e">24,18</text>
<text x="369.1" y="323" class="e">31,92</text>
<text x="415.65" y="323" class="e">22,40</text>
<text x="464.5" y="323" class="e">24,70</text>
<text x="511.2" y="323" class="e">31,29</text>
<text x="558.8" y="323" class="e">24,72</text>
<text x="608.3" y="323" class="e">26,75</text>
<text x="655.9" y="323" class="e">22,04</text>
<text x="703.9" y="323" class="e">29,01</text>
<text x="752.85" y="323" class="e">35,09</text>
<text x="800.5" y="323" class="e">33,53</text>
<text x="850.1" y="323" class="e">29,10</text>
<text x="78.3" y="339" class="b">19-20</text>
<text x="146.5" y="340" class="e">25,33</text>
<text x="190.8" y="340" class="e">26,76</text>
<text x="235.8" y="340" class="e">28,27</text>
<text x="280.3" y="340" class="e">30,63</text>
<text x="323.8" y="340" class="e">29,93</text>
<text x="369.1" y="340" class="e">34,67</text>
<text x="415.65" y="340" class="e">27,37</text>
<text x="464.5" y="340" class="e">27,77</text>
<text x="511.2" y="340" class="e">34,39</text>
<text x="558.8" y="340" class="e">26,88</text>
<text x="608.3" y="340" class="e">29,57</text>
<text x="655.9" y="340" class="e">28,13</text>
<text x="703.9" y="340" class="e">32,95</text>
<text x="752.85" y="340" class="e">40,95</text>
<text x="800.5" y="340" class="e">39,59</text>
<text x="850.1" y="340" class="e">37,91</text>
<text x="78.3" y="355" class="b">20-21</text>
<text x="146.5" y="356" class="e">25,48</text>
<text x="190.8" y="356" class="e">27,97</text>
<text x="235.8" y="356" class="e">29,32</text>
<text x="280.3" y="356" class="e">30,25</text>
<text x="323.8" y="356" class="e">30,91</text>
<text x="369.1" y="356" class="e">32,73</text>
<text x="415.65" y="356" class="e">28,07</text>
<text x="464.5" y="356" class="e">30,48</text>
<text x="511.2" y="356" class="e">33,23</text>
<text x="558.8" y="356" class="e">27,70</text>
<text x="608.3" y="356" class="e">31,56</text>
<text x="655.9" y="356" class="e">30,74</text>
<text x="703.9" y="356" class="e">33,92</text>
<text x="752.85" y="356" class="e">40,94</text>
<text x="800.5" y="356" class="e">34,36</text>
<text x="850.1" y="356" class="e">32,05</text>
<text x="78.3" y="372" class="b">21-22</text>
<text x="146.5" y="372" class="e">25,03</text>
<text x="190.8" y="372" class="e">30,49</text>
<text x="235.8" y="372" class="e">29,60</text>
<text x="280.3" y="372" class="e">29,86</text>
<text x="323.8" y="372" class="e">30,92</text>
<text x="369.1" y="372" class="e">32,25</text>
<text x="415.65" y="372" class="e">30,09</text>
<text x="464.5" y="372" class="e">32,37</text>
<text x="511.2" y="372" class="e">34,00</text>
<text x="558.8" y="372" class="e">29,08</text>
<text x="608.3" y="372" class="e">32,30</text>
<text x="655.9" y="372" class="e">31,90</text>
<text x="703.9" y="372" class="e">33,25</text>
<text x="752.85" y="372" class="e">33,53</text>
<text x="800.5" y="372" class="e">28,14</text>
<text x="850.1" y="372" class="e">25,03</text>
<text x="78.3" y="388" class="b">22-23</text>
<text x="146.5" y="388" class="e">25,97</text>
<text x="190.8" y="388" class="e">32,35</text>
<text x="235.8" y="388" class="e">31,75</text>
<text x="280.3" y="388" class="e">30,61</text>
<text x="323.8" y="388" class="e">31,49</text>
<text x="369.1" y="388" class="e">34,94</text>
<text x="415.65" y="388" class="e">30,57</text>
<text x="464.5" y="388" class="e">32,65</text>
<text x="511.2" y="388" class="e">33,93</text>
<text x="558.8" y="388" class="e">28,31</text>
<text x="608.3" y="388" class="e">31,56</text>
<text x="655.9" y="388" class="e">30,59</text>
<text x="703.9" y="388" class="e">29,97</text>
<text x="752.85" y="388" class="e">29,57</text>
<text x="800.5" y="388" class="e">24,41</text>
<text x="850.1" y="388" class="e">22,69</text>
<text x="78.3" y="404" class="b">23-24</text>
<text x="146.5" y="404" class="e">22,40</text>
<text x="190.8" y="404" class="e">29,37</text>
<text x="235.8" y="404" class="e">28,84</text>
<text x="280.3" y="404" class="e">28,00</text>
<text x="323.8" y="404" class="e">29,81</text>
<text x="369.1" y="404" class="e">33,78</text>
<text x="415.65" y="404" class="e">29,00</text>
<text x="464.5" y="404" class="e">26,33</text>
<text x="511.2" y="404" class="e">31,75</text>
<text x="558.8" y="404" class="e">25,73</text>
<text x="608.3" y="404" class="e">28,50</text>
<text x="655.9" y="404" class="e">23,54</text>
<text x="703.9" y="404" class="e">23,30</text>
<text x="752.85" y="404" class="e">24,52</text>
<text x="800.5" y="404" class="e">22,02</text>
<text x="850.1" y="404" class="e">16,85</text>
<text x="29.5" y="433" class="b m">Euro</text>
<text x="78.5" y="433" class="b m">Stunden</text>
<text x="50.4" y="449" class="e">10-20</text>
<text x="78.8" y="449">137</text>
<text x="126" y="449">9</text>
<text x="170.5" y="449">3</text>
<text x="215" y="449">4</text>
<text x="259.5" y="449">12</text>
<text x="304" y="449">10</text>
<text x="348.5" y="449">6</text>
<text x="394" y="449">7</text>
<text x="442" y="449">9</text>
<text x="489.5" y="449">8</text>
<text x="537" y="449">13</text>
<text x="585.5" y="449">14</text>
<text x="633.5" y="449">9</text>
<text x="682" y="449">6</text>
<text x="730.5" y="449">8</text>
<text x="779" y="449">8</text>
<text x="827.5" y="449">11</text>
<text x="50.4" y="464" class="e">0-10</text>
<text x="78.8" y="464">53</text>
<text x="170.5" y="464">15</text>
<text x="215" y="464">10</text>
<text x="259.5" y="464">1</text>
<text x="304" y="464">5</text>
<text x="442" y="464">7</text>
<text x="489.5" y="464">3</text>
<text x="537" y="464">2</text>
<text x="633.5" y="464">9</text>
<text x="682" y="464">1</text>
<text x="50.4" y="479" class="e">-10-0</text>
<text x="78.8" y="479">2</text>
<text x="304" y="479">2</text>
<text x="50.4" y="495" class="e">-20-(-10)</text>
<text x="78.8" y="495">0</text>
<text x="50.4" y="510.6" class="e w" style="color:#ffffff">-30-(-20)</text>
<text x="78.8" y="510.6" class="w" style="color:#ffffff">0</text>
<text x="50.4" y="525.8" class="e w" style="color:#ffffff">&lt; -30</text>
<text x="78.8" y="525.8" class="w" style="color:#ffffff">0</text>
<text x="78.1" y="541" class="b" style="color:#ff0000">47</text>
<text x="78.3" y="555" class="t" style="color:#ff0000">846</text>
<text x="105.4" y="541" class="s b m" style="color:#ff0000">Stunden mit neg. Preisen</text>
<text x="105.4" y="555" class="s t" style="color:#ff0000">Stunden zw. 0 und 20 €</text>
<text x="239.6" y="541" class="s b m">2016</text>
<text x="239.6" y="555" class="s b m">2016 (unvollständig)</text>
</g>
</svg>
</body></html>
